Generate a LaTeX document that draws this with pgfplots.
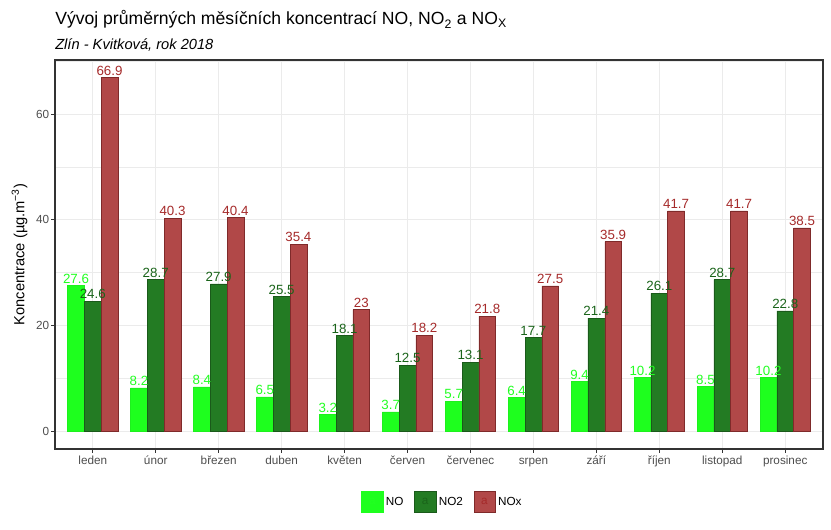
\documentclass[border=0pt]{standalone}
\usepackage{fontspec}
\setmainfont{Liberation Sans}
\usepackage{pgfplots}
\pgfplotsset{compat=1.18}
\definecolor{cNO}{HTML}{1EFF1E}
\definecolor{cNOe}{HTML}{1EF01E}
\definecolor{cNOt}{HTML}{22FF22}
\definecolor{cNOii}{HTML}{237B23}
\definecolor{cNOiie}{HTML}{1A5A1A}
\definecolor{cNOiit}{HTML}{1A641A}
\definecolor{cNOx}{HTML}{B14848}
\definecolor{cNOxe}{HTML}{7F2A2A}
\definecolor{cNOxt}{HTML}{A52A2A}
\definecolor{grid}{HTML}{EBEBEB}
\definecolor{gray20}{HTML}{333333}
\definecolor{gray30}{HTML}{4D4D4D}
\pgfplotstableread{
x NO NOii NOx
1 27.6 24.6 66.9
2 8.2 28.7 40.3
3 8.4 27.9 40.4
4 6.5 25.5 35.4
5 3.2 18.1 23
6 3.7 12.5 18.2
7 5.7 13.1 21.8
8 6.4 17.7 27.5
9 9.4 21.4 35.9
10 10.2 26.1 41.7
11 8.5 28.7 41.7
12 10.2 22.8 38.5
}\data
\newcommand{\keybox}[3]{\fill[#1] (0pt,-8pt) rectangle (16pt,8pt); \draw[#2,line width=0.4pt] (0pt,-8pt) rectangle (16pt,8pt); \node[text=#3,font=\fontsize{8.8}{10}\selectfont,inner sep=0,anchor=center] at (8pt,0pt) {a};}
\begin{document}
\begin{tikzpicture}[x=1pt,y=1pt]
\useasboundingbox (0,0) rectangle (623.25,396.75);
\node[anchor=base west,font=\fontsize{13.2}{15}\selectfont,inner sep=0] at (41.25,378) {Vývoj průměrných měsíčních koncentrací NO, NO\textsubscript{2} a NO\textsubscript{X}};
\node[anchor=base west,font=\fontsize{11}{13}\selectfont\itshape,inner sep=0] at (41.25,359.6) {Zlín - Kvitková, rok 2018};
\begin{axis}[
  at={(41.25pt,60pt)}, anchor=south west,
  width=576pt, height=291.75pt, scale only axis,
  xmin=0.4, xmax=12.6, ymin=-3.345, ymax=70.245,
  xtick={1,...,12},
  xticklabels={leden,únor,březen,duben,květen,červen,červenec,srpen,září,říjen,listopad,prosinec},
  ytick={0,20,40,60},
  minor ytick={10,30,50,70},
  grid=both,
  major grid style={color=grid, line width=0.8pt},
  minor grid style={color=grid, line width=0.4pt},
  minor tick length=0pt,
  tick align=outside, major tick length=2.75pt,
  xtick pos=lower, ytick pos=left,
  tick style={color=gray20, line width=0.8pt},
  axis line style={color=gray20, line width=0.8pt},
  /pgf/number format/assume math mode=true,
  ticklabel style={font=\fontsize{8.8}{10}\selectfont, text=gray30},
  xticklabel style={text height=7pt, text depth=2pt, inner sep=1.5pt},
  yticklabel style={inner sep=1.5pt},
  ylabel={Koncentrace (µg.m\textsuperscript{−3})},
  ylabel style={font=\fontsize{11}{13}\selectfont},
  ylabel shift=1.5pt,
  legend columns=3,
  legend style={draw=none, at={(0.505,-0.1362)}, anchor=center,
    font=\fontsize{8.8}{10}\selectfont,
    /tikz/every even column/.append style={column sep=6pt},
    legend cell align=left},
  every node near coord/.append style={font=\fontsize{10}{11}\selectfont, anchor=south, inner sep=0pt, yshift=1.5pt},
]
\addplot[ybar, bar width=0.2667, bar shift=-0.2667, fill=cNO, draw=cNOe, line width=0.3pt, forget plot,
  nodes near coords, every node near coord/.append style={text=cNOt, xshift=-12.59pt}]
  table[x=x,y=NO] {\data};
\addplot[ybar, bar width=0.2667, bar shift=0, fill=cNOii, draw=cNOiie, line width=0.4pt, forget plot,
  nodes near coords, every node near coord/.append style={text=cNOiit}]
  table[x=x,y=NOii] {\data};
\addplot[ybar, bar width=0.2667, bar shift=0.2667, fill=cNOx, draw=cNOxe, line width=0.4pt, forget plot,
  nodes near coords, every node near coord/.append style={text=cNOxt, xshift=12.59pt}]
  table[x=x,y=NOx] {\data};
\addlegendimage{legend image code/.code={\keybox{cNO}{cNO}{cNOt}}}
\addlegendentry{NO}
\addlegendimage{legend image code/.code={\keybox{cNOii}{cNOiie}{cNOiit}}}
\addlegendentry{NO2}
\addlegendimage{legend image code/.code={\keybox{cNOx}{cNOxe}{cNOxt}}}
\addlegendentry{NOx}
\end{axis}
\end{tikzpicture}
\end{document}
